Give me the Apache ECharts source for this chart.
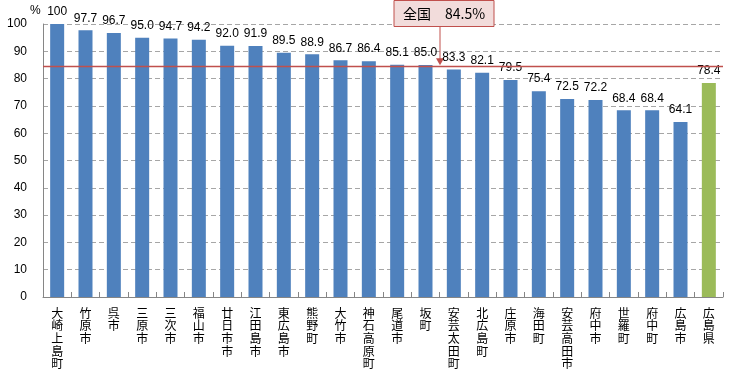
<!DOCTYPE html>
<html><head><meta charset="utf-8">
<script src="https://cdn.jsdelivr.net/npm/echarts@6/dist/echarts.min.js"></script>
<style>html,body{margin:0;padding:0;background:#fff}#c{width:756px;height:379px}</style>
</head><body><div id="c"></div>
<script>
const categories = ['大崎上島町','竹原市','呉市','三原市','三次市','福山市','廿日市市','江田島市','東広島市','熊野町','大竹市','神石高原町','尾道市','坂町','安芸太田町','北広島町','庄原市','海田町','安芸高田市','府中市','世羅町','府中町','広島市','広島県'];
const values = [100,97.7,96.7,95.0,94.7,94.2,92.0,91.9,89.5,88.9,86.7,86.4,85.1,85.0,83.3,82.1,79.5,75.4,72.5,72.2,68.4,68.4,64.1,78.4];
const nationalValue = 84.5;
const nationalLabel = '全国　84.5%';
const yTicks = [0,10,20,30,40,50,60,70,80,90,100];

const chart = echarts.init(document.getElementById('c'), null, {renderer:'canvas'});
const jp = '"Noto Sans CJK JP","Noto Sans",sans-serif';
const num = '"Liberation Sans","DejaVu Sans",sans-serif';
chart.setOption({
  animation:false,
  grid:{left:43,right:33,top:24,bottom:82},
  xAxis:{type:'category',data:categories,
    axisLine:{lineStyle:{color:'#868686',width:1}},
    axisTick:{show:true,inside:true,length:5,alignWithLabel:false,lineStyle:{color:'#868686'}},
    axisLabel:{interval:0,margin:10,color:'#000',fontFamily:jp,fontSize:12,lineHeight:12.6,verticalAlign:'top',
      formatter:v=>v.split('').join('\n')}},
  yAxis:{type:'value',min:0,max:100,interval:10,
    axisLine:{show:true,lineStyle:{color:'#868686'}},
    axisTick:{show:false},
    axisLabel:{color:'#000',fontFamily:num,fontSize:12,margin:16,formatter:v=>yTicks.includes(v)?String(v):''},
    splitLine:{lineStyle:{color:'#a6a6a6',type:[5,3],width:1}}},
  series:[{type:'bar',barWidth:14,
    data:values.map((v,i)=>({value:v,itemStyle:{color:i===values.length-1?'#9bbb59':'#4f81bd'}})),
    label:{show:true,position:'top',distance:6,color:'#000',fontFamily:num,fontSize:12,
      formatter:p=>p.value===100?'100':p.value.toFixed(1)},
    markLine:{silent:true,symbol:['none','none'],label:{show:false},
      lineStyle:{color:'#c0504d',width:1.3,type:'solid'},
      data:[{yAxis:nationalValue}]}}]
});
const p13 = chart.convertToPixel({xAxisIndex:0,yAxisIndex:0},[13,nationalValue]);
const p14 = chart.convertToPixel({xAxisIndex:0,yAxisIndex:0},[14,nationalValue]);
const ax = Math.round((p13[0]+p14[0])/2);
const ay = p13[1];
chart.setOption({graphic:[
  {type:'text',left:30,top:5,style:{text:'%',font:'12px '+num,fill:'#000'}},
  {type:'rect',shape:{x:ax-46,y:0.5,width:100,height:26},style:{fill:'#f2dcdb',stroke:'#c0504d',lineWidth:1}},
  {type:'text',x:ax+4,y:13.5,style:{text:nationalLabel,font:'14px '+jp,fill:'#000',align:'center',verticalAlign:'middle'}},
  {type:'line',shape:{x1:ax,y1:27,x2:ax,y2:ay-4},style:{stroke:'#c0504d',lineWidth:1}},
  {type:'polygon',shape:{points:[[ax-4,ay-8],[ax+4,ay-8],[ax,ay-1]]},style:{fill:'#c0504d'}}
]});
</script></body></html>
